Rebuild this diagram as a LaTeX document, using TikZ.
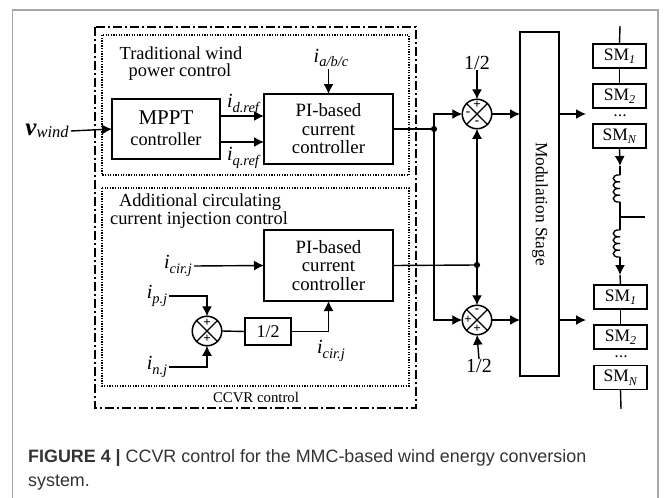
\documentclass[tikz,border=0pt]{standalone}
\usepackage{fontspec}
\setmainfont{Liberation Serif}
\newfontfamily\captionfont{Liberation Sans}
\usepackage{tikz}
\usetikzlibrary{positioning,arrows.meta}

\newcommand{\sig}[2]{\textit{#1\raisebox{-.24em}{\fontsize{14.5}{15}\selectfont #2}}}
\newcommand{\smsub}[1]{SM\raisebox{-.2em}{\fontsize{12}{12}\selectfont\textit{#1}}}

\begin{document}
\begin{tikzpicture}[
        x=1pt,
        y=-1pt,
        block/.style={
            draw,
            line width=1.5pt,
            inner sep=0pt,
            outer sep=0pt,
            align=center
        },
        smbox/.style={
            block,
            minimum width=53pt,
            minimum height=24pt,
            font=\fontsize{17.5}{18}\selectfont
        },
        sumnode/.style={
            circle,
            draw,
            line width=1.5pt,
            minimum size=29.5pt,
            inner sep=0pt,
            outer sep=0pt,
            path picture={
                \draw[line width=1.1pt] (path picture bounding box.north west) -- (path picture bounding box.south east);
                \draw[line width=1.1pt] (path picture bounding box.north east) -- (path picture bounding box.south west);
            }
        },
        joint/.style={
            circle,
            fill=black,
            inner sep=2.2pt,
            outer sep=0pt
        },
        signtext/.style={
            inner sep=0pt,
            font=\fontsize{13}{13}\selectfont\bfseries
        },
        wire/.style={
            line width=1.4pt
        },
        feed/.style={
            wire,
            -{Latex[length=10pt,width=10pt]}
        },
        textlabel/.style={
            inner sep=0pt,
            font=\fontsize{18.4}{20}\selectfont
        },
        siglabel/.style={
            inner sep=2pt,
            font=\fontsize{20}{22}\selectfont
        },
        outerframe/.style={
            line width=1.2pt,
            dash pattern=on 9pt off 3pt on 2pt off 3pt
        },
        innerframe/.style={
            line width=1.3pt,
            dash pattern=on 1.3pt off 1.3pt
        },
        captiontext/.style={
            anchor=base west,
            inner sep=0pt,
            text=black!80,
            font=\fontsize{17.9}{20}\selectfont\captionfont
        }
    ]

    \useasboundingbox (0,0) rectangle (665,498);

    % Page frame
    \draw[line width=1.6pt,black!35] (12.5,498) -- (12.5,10) -- (658,10) -- (658,498);

    % Control regions
    \draw[outerframe] (95,27) rectangle (416,408);
    \draw[innerframe] (102,35) rectangle (409,175);
    \draw[innerframe] (102,188) rectangle (409,386);

    \node[textlabel] (title1) at (181,53) {Traditional wind};
    \node[textlabel] (title2) at (180,72) {power control};
    \node[textlabel] (title3) at (200,202) {Additional circulating};
    \node[textlabel] (title4) at (199,220) {current injection control};
    \node[textlabel,font=\fontsize{14.8}{16}\selectfont] (title5) at (256,397) {CCVR control};

    % Blocks
    \node[block,minimum width=108pt,minimum height=60pt] (mppt) at (166,129) {};
    \node[textlabel,font=\fontsize{21}{22}\selectfont] (mpptA) at (166,118) {MPPT};
    \node[textlabel,font=\fontsize{18.3}{19}\selectfont] (mpptB) at (166,139) {controller};

    \node[block,minimum width=129pt,minimum height=70pt,font=\fontsize{18.8}{18.5}\selectfont] (piTop) at (328.5,129) {PI-based\\current\\controller};
    \node[block,minimum width=129pt,minimum height=71pt,font=\fontsize{18.8}{18.5}\selectfont] (piBot) at (328.5,265.5) {PI-based\\current\\controller};
    \node[block,minimum width=46pt,minimum height=27pt,font=\fontsize{18}{20}\selectfont] (halfBox) at (268,331.5) {1/2};
    \node[block,minimum width=39pt,minimum height=344pt] (mod) at (539.5,204) {};
    \node[textlabel,font=\fontsize{17.3}{19}\selectfont,rotate=-90] (modText) at (540,204) {Modulation Stage};

    % Summing junctions
    \node[sumnode] (sumIn) at (207,331) {};
    \node[sumnode] (sumTop) at (477,114) {};
    \node[sumnode] (sumBot) at (477,320) {};

    \node[signtext] (signA) at (207,323) {+};
    \node[signtext] (signB) at (207,339) {+};
    \node[signtext] (signC) at (477,105) {+};
    \node[signtext] (signD) at (468,114) {-};
    \node[signtext] (signE) at (477,123) {-};
    \node[signtext] (signF) at (477,311) {-};
    \node[signtext] (signG) at (468,320) {+};
    \node[signtext] (signH) at (477,329) {+};

    % Signal labels
    \node[siglabel] (vwind) at (47,131) {\textit{\fontsize{25}{26}\selectfont\textbf{v}\raisebox{-.06em}{\fontsize{16.5}{17}\selectfont wind}}};
    \node[siglabel] (iabc) at (331,58) {\sig{i}{a/b/c}};
    \node[siglabel] (idref) at (243,105) {\sig{i}{d.ref}};
    \node[siglabel] (iqref) at (243,158) {\sig{i}{q.ref}};
    \node[siglabel] (icirA) at (178,266) {\sig{i}{cir.j}};
    \node[siglabel] (ipj) at (157,296) {\sig{i}{p.j}};
    \node[siglabel] (inj) at (157,367) {\sig{i}{n.j}};
    \node[siglabel] (icirB) at (331,351) {\sig{i}{cir.j}};
    \node[textlabel,font=\fontsize{20}{22}\selectfont] (halfA) at (477,63) {1/2};
    \node[textlabel,font=\fontsize{20}{22}\selectfont] (halfB) at (479,366) {1/2};

    % Connections of the wind power part
    \draw[feed] (vwind.east) -- (mppt.west);
    \draw[feed] ([yshift=13pt]mppt.east) -- ([yshift=13pt]piTop.west);
    \draw[feed] ([yshift=-13pt]mppt.east) -- ([yshift=-13pt]piTop.west);
    \draw[feed] (piTop.north |- iabc.south) -- (piTop.north);

    % Connections of the circulating current part
    \draw[feed] (icirA.east) -- (piBot.west);
    \draw[feed] (ipj.east) -| (sumIn.north);
    \draw[feed] (inj.east) -| (sumIn.south);
    \draw[wire] (sumIn.east) -- (halfBox.west);
    \draw[feed] (halfBox.east) -| (piBot.south);

    % Branches towards the modulation stage
    \node[joint] (jointA) at (434,129) {};
    \node[joint] (jointB) at (477,265) {};
    \draw[wire] (piTop.east) -- (jointA);
    \draw[wire] (piBot.east) -- (jointB);
    \draw[feed] (jointA) |- (sumTop.west);
    \draw[feed] (jointA) |- (sumBot.west);
    \draw[feed] (jointB) -- (sumTop.south);
    \draw[feed] (jointB) -- (sumBot.north);
    \draw[feed] (halfA.south) -- (sumTop.north);
    \draw[feed] (halfB.north) -- (sumBot.south);
    \draw[feed] (sumTop.east) -- (sumTop.east -| mod.west);
    \draw[feed] (sumBot.east) -- (sumBot.east -| mod.west);

    % Outputs
    \coordinate (outA) at (586,114);
    \coordinate (outB) at (586,320);
    \draw[feed] (sumTop.east -| mod.east) -- (outA);
    \draw[feed] (sumBot.east -| mod.east) -- (outB);

    % Upper arm
    \node[smbox] (smA1) at (619.5,56) {\smsub{1}};
    \node[smbox] (smA2) at (619.5,96) {\smsub{2}};
    \node[smbox] (smA3) at (619.5,136) {\smsub{N}};
    \node[inner sep=0pt,font=\fontsize{12}{12}\selectfont\bfseries] (dotsA) at (620,116) {.\kern1.5pt.\kern1.5pt.};

    \coordinate (armTop) at (620,26);
    \coordinate (tipA) at (620,166);
    \coordinate (coilA) at (620,175);
    \coordinate (coilB) at (620,202);
    \coordinate (mid) at (620,217);
    \coordinate (midEnd) at (645,217);
    \coordinate (coilC) at (620,230);
    \coordinate (coilD) at (620,257);
    \coordinate (tipB) at (620,275);
    \coordinate (armEnd) at (621,409);

    \draw[wire] (armTop) -- (smA1.north);
    \draw[wire] (smA1.south) -- (smA2.north);
    \draw[feed] (smA3.south) -- (tipA);
    \draw[wire] (tipA) -- (coilA);

    % Arm inductors
    \foreach \ystart in {175,230}
        \foreach \i in {0,1,2,3}
            \draw[wire] (620,{\ystart+\i*6.75}) .. controls (611,{\ystart+\i*6.75-1}) and (611,{\ystart+\i*6.75+7.75}) .. (620,{\ystart+\i*6.75+6.75});

    \draw[wire] (coilB) -- (coilC);
    \draw[wire] (mid) -- (midEnd);

    % Lower arm
    \node[smbox] (smB1) at (620.5,297) {\smsub{1}};
    \node[smbox] (smB2) at (620.5,337) {\smsub{2}};
    \node[smbox] (smB3) at (620.5,377.5) {\smsub{N}};
    \node[inner sep=0pt,font=\fontsize{12}{12}\selectfont\bfseries] (dotsB) at (621,357) {.\kern1.5pt.\kern1.5pt.};

    \draw[feed] (coilD) -- (tipB);
    \draw[wire] (tipB) -- (smB1.north);
    \draw[wire] (smB1.south) -- (smB2.north);
    \draw[wire] (smB3.south) -- (armEnd);

    % Caption
    \node[captiontext] (captionA) at (28,462) {\textbf{FIGURE 4 |} CCVR control for the MMC-based wind energy conversion};
    \node[captiontext] (captionB) at (28,486) {system.};

\end{tikzpicture}
\end{document}
